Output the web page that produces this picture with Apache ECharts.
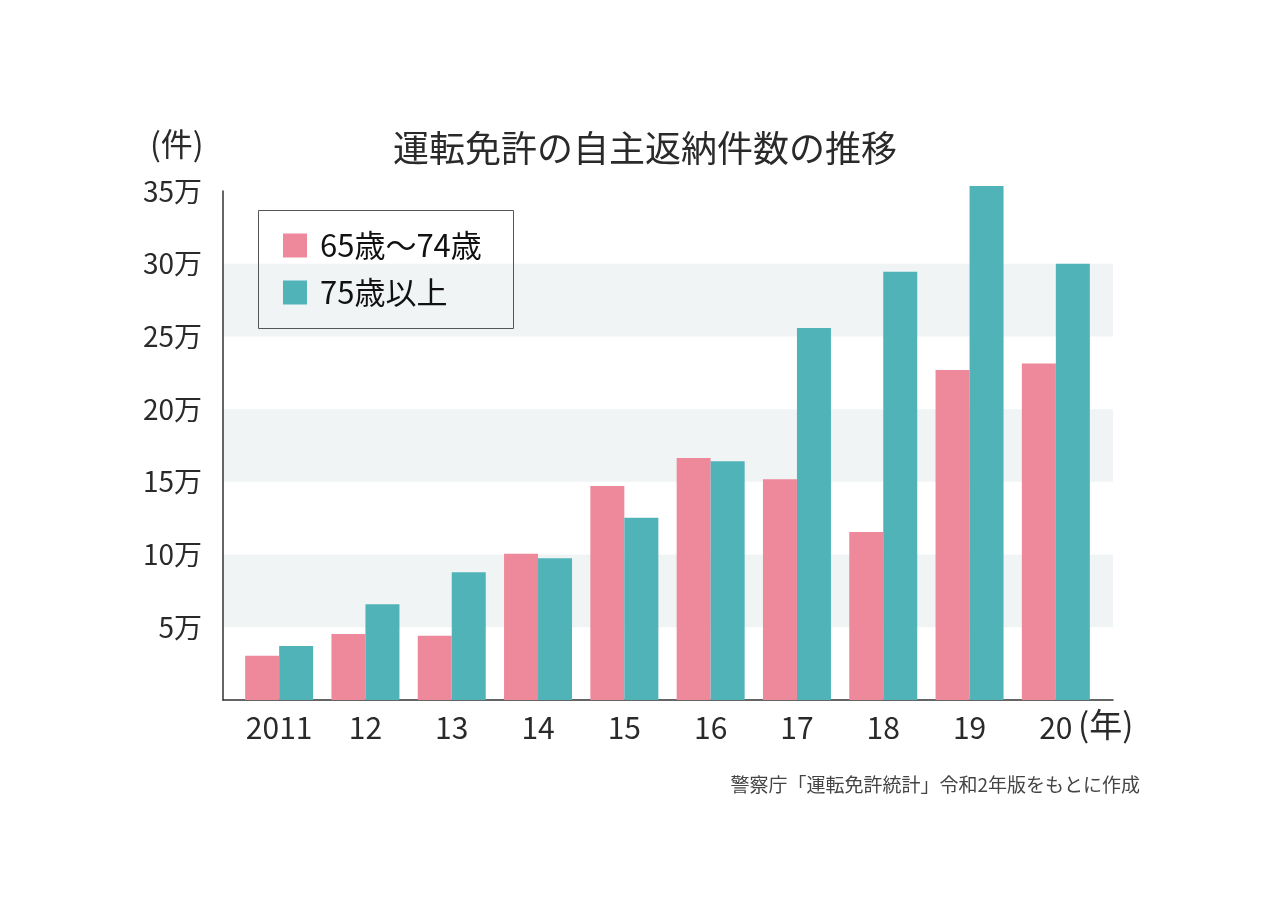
<!DOCTYPE html>
<html>
<head>
<meta charset="utf-8">
<script src="https://cdn.jsdelivr.net/npm/echarts@6/dist/echarts.min.js"></script>
<style>
  html, body { margin: 0; padding: 0; background: #fff; }
  #chart { width: 1280px; height: 906px; }
</style>
</head>
<body>
<div id="chart"></div>
<script>
'use strict';

// 単位: 万件
var years = ['2011', '12', '13', '14', '15', '16', '17', '18', '19', '20'];
var age65to74 = [3.05, 4.54, 4.42, 10.06, 14.72, 16.64, 15.18, 11.55, 22.7, 23.13];
var age75plus = [3.71, 6.58, 8.78, 9.74, 12.54, 16.42, 25.58, 29.44, 35.35, 30.0];
var seriesNames = ['65歳〜74歳', '75歳以上'];
var yMax = 35;
var yStep = 5;

var FONT = '"Noto Sans CJK JP", "Noto Sans", sans-serif';
var PINK = '#EE889B';
var TEAL = '#4FB3B8';
var INK = '#2a2a2a';

var chart = echarts.init(document.getElementById('chart'));

function yLabel(v) {
    return v === 0 ? '' : v + '万';
}

var option = {
    backgroundColor: '#fff',
    animation: false,
    textStyle: { fontFamily: FONT },
    title: {
        text: '運転免許の自主返納件数の推移',
        left: 640,
        top: 125,
        textAlign: 'center',
        textStyle: { fontFamily: FONT, fontSize: 36, fontWeight: 'normal', color: INK }
    },
    legend: {
        orient: 'vertical',
        left: 283,
        top: 230,
        padding: 0,
        itemWidth: 24,
        itemHeight: 24,
        itemGap: 16,
        icon: 'rect',
        data: seriesNames,
        textStyle: { fontFamily: FONT, fontSize: 31, color: '#111', padding: [0, 0, 0, 8] }
    },
    grid: [
        // 背景の帯と軸線用
        { left: 223, right: 167, top: 191, bottom: 206 },
        // 棒グラフ用
        { left: 236, right: 181, top: 191, bottom: 206 }
    ],
    xAxis: [
        {
            gridIndex: 0, type: 'value', min: 0, max: 1,
            axisLine: { show: true, lineStyle: { color: '#333', width: 1.5 } },
            axisTick: { show: false }, axisLabel: { show: false }, splitLine: { show: false }
        },
        {
            gridIndex: 1, type: 'category', data: years,
            axisLine: { show: false }, axisTick: { show: false },
            axisLabel: { interval: 0, fontFamily: FONT, fontSize: 30, color: INK, margin: 13 }
        }
    ],
    yAxis: [
        {
            gridIndex: 0, type: 'value', min: 0, max: yMax, interval: yStep,
            axisLine: { show: true, lineStyle: { color: '#333', width: 1.5 } },
            axisTick: { show: false },
            axisLabel: { fontFamily: FONT, fontSize: 28, color: INK, margin: 21, formatter: yLabel },
            splitLine: { show: false },
            splitArea: { show: true, areaStyle: { color: ['rgba(255,255,255,0)', '#F1F4F5'] } }
        },
        {
            gridIndex: 1, type: 'value', min: 0, max: yMax, interval: yStep, show: false
        }
    ],
    series: [
        {
            name: seriesNames[0], type: 'bar', xAxisIndex: 1, yAxisIndex: 1,
            data: age65to74, barWidth: 34, barGap: '0%', clip: false,
            itemStyle: { color: PINK }
        },
        {
            name: seriesNames[1], type: 'bar', xAxisIndex: 1, yAxisIndex: 1,
            data: age75plus, barWidth: 34, barGap: '0%', clip: false,
            itemStyle: { color: TEAL }
        }
    ],
    graphic: [
        {
            type: 'rect', left: 258, top: 210, z: 10,
            shape: { width: 255, height: 118 },
            style: { fill: 'rgba(0,0,0,0)', stroke: '#555', lineWidth: 1 }
        },
        {
            type: 'text', left: 150, top: 128,
            style: { text: '(件)', font: '32px ' + FONT, fill: INK }
        },
        {
            type: 'text', left: 1078, top: 708,
            style: { text: '(年)', font: '33px ' + FONT, fill: INK }
        },
        {
            type: 'text', right: 140, top: 775,
            style: { text: '警察庁「運転免許統計」令和2年版をもとに作成', font: '19px ' + FONT, fill: '#444' }
        }
    ]
};

chart.setOption(option);
</script>
</body>
</html>
